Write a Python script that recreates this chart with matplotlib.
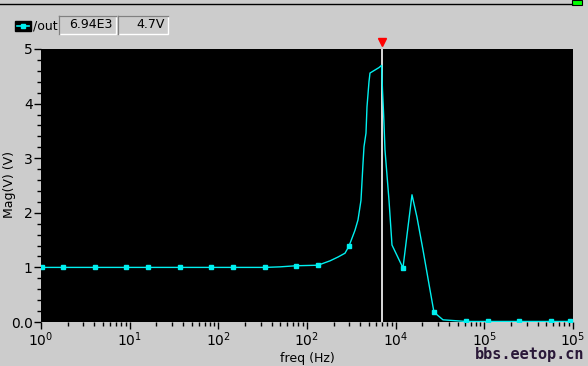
import matplotlib
matplotlib.use("Agg")
import matplotlib.pyplot as plt
from matplotlib.ticker import FixedLocator, NullFormatter
from matplotlib.patches import Rectangle
import numpy as np

# ---- data ----
freq_hz = [1.03, 1.77, 4.06, 9.09, 16.1, 36.9, 82.7, 146, 336, 496, 751, 1330,
           1816, 2236, 2682, 2976, 3477, 3760, 4064, 4280, 4393, 4628, 4749,
           5002, 5134, 6485, 6940, 7100, 7250, 7383, 7578, 8408, 9089, 12090,
           13770, 15280, 17390, 20330, 24380, 27040, 34180, 62100, 109900,
           246000, 564700, 924000]
mag_v = [1.0, 1.0, 1.0, 1.0, 1.0, 1.0, 1.0, 1.0, 1.0, 1.01, 1.03, 1.04,
         1.12, 1.19, 1.26, 1.39, 1.68, 1.87, 2.23, 2.90, 3.21, 3.46, 3.94,
         4.40, 4.56, 4.66, 4.70, 4.25, 3.94, 3.64, 3.15, 2.23, 1.41, 0.99,
         1.74, 2.33, 1.92, 1.32, 0.59, 0.18, 0.04, 0.01, 0.01,
         0.01, 0.01, 0.01]
marker_freqs = [1.03, 1.77, 4.06, 9.09, 16.1, 36.9, 82.7, 146, 336, 751, 1330,
                2976, 12090, 27040, 62100, 109900, 246000, 564700, 924000]
cursor_freq = 6940
cursor_text = ["6.94E3", "4.7V"]
trace_name = "/out"
y_ticks = [0, 1, 2, 3, 4, 5]
y_ticklabels = ["0.0", "1", "2", "3", "4", "5"]
x_ticks = [1, 10, 100, 1000, 1e4, 1e5, 1e6]
x_ticklabels = ["$10^0$", "$10^1$", "$10^2$", "$10^2$", "$10^4$", "$10^5$", "$10^5$"]

W, H = 588, 366
bg = "#cccccc"
cyan = "#00f0f0"

fig = plt.figure(figsize=(W / 100, H / 100), dpi=100, facecolor=bg)
ax = fig.add_axes([41 / W, 1 - 322 / H, 532 / W, 273 / H])
ax.set_facecolor("black")

mark_idx = [freq_hz.index(f) for f in marker_freqs]
ax.plot(freq_hz, mag_v, color=cyan, lw=1.0, marker="s", markersize=3,
        markevery=mark_idx, markerfacecolor=cyan, markeredgecolor=cyan)

ax.set_xscale("log")
ax.set_xlim(1, 1e6)
ax.set_ylim(0, 5)

# cursor
ax.axvline(cursor_freq, color="white", lw=1.2, zorder=1)
ax.plot([cursor_freq], [5.12], marker="v", color="red", markersize=6,
        clip_on=False, zorder=5)

ax.xaxis.set_major_locator(FixedLocator(x_ticks))
ax.set_xticklabels(x_ticklabels, fontsize=10)
minors = [m * 10 ** d for d in range(0, 6) for m in range(2, 10)]
ax.xaxis.set_minor_locator(FixedLocator(minors))
ax.xaxis.set_minor_formatter(NullFormatter())
ax.set_yticks(y_ticks)
ax.set_yticklabels(y_ticklabels, fontsize=10)
ax.set_yticks(np.arange(0, 5.01, 0.2), minor=True)
ax.tick_params(axis="both", which="major", length=5, width=1, color="black",
               labelcolor="black", pad=1)
ax.tick_params(axis="both", which="minor", length=3, width=1, color="black")
for s in ax.spines.values():
    s.set_visible(False)

ax.set_xlabel("freq (Hz)", fontsize=9, labelpad=2)
fig.text(10 / W, 1 - 185 / H, "Mag(V) (V)", fontsize=9, rotation=90,
         ha="center", va="center")

# top line and green box
fig.add_artist(plt.Line2D([0, 572 / W], [1 - 4 / H, 1 - 4 / H], color="black", lw=1))
fig.add_artist(Rectangle((572 / W, 1 - 5 / H), 10 / W, 5 / H, facecolor="#00ff00",
                         edgecolor="black", lw=0.8))

# legend
fig.add_artist(Rectangle((15 / W, 1 - 31 / H), 16 / W, 10 / H, facecolor="black",
                         edgecolor="black"))
fig.add_artist(plt.Line2D([17 / W, 29 / W], [1 - 26 / H, 1 - 26 / H], color=cyan, lw=1.2))
fig.add_artist(plt.Line2D([23 / W], [1 - 26 / H], color=cyan, marker="s", markersize=2.5))
fig.text(33 / W, 1 - 26 / H, trace_name, fontsize=9, va="center", ha="left", zorder=10)
for (x0, x1), t in zip([(59, 116), (118, 168)], cursor_text):
    fig.add_artist(Rectangle((x0 / W, 1 - 34 / H), (x1 - x0) / W, 18 / H,
                             facecolor=bg, edgecolor="white", lw=1))
    fig.add_artist(plt.Line2D([x0 / W, x1 / W], [1 - 16 / H, 1 - 16 / H], color="#808080", lw=1))
    fig.add_artist(plt.Line2D([x0 / W, x0 / W], [1 - 34 / H, 1 - 16 / H], color="#808080", lw=1))
    fig.text((x1 - 3) / W, 1 - 25 / H, t, fontsize=9, va="center", ha="right")

fig.text(584 / W, 1 - 355 / H, "bbs.eetop.cn", fontsize=11, fontweight="bold",
         color="#2a1838", ha="right", va="center", family="DejaVu Sans Mono")

fig.savefig("out.png", dpi=100, facecolor=bg)
